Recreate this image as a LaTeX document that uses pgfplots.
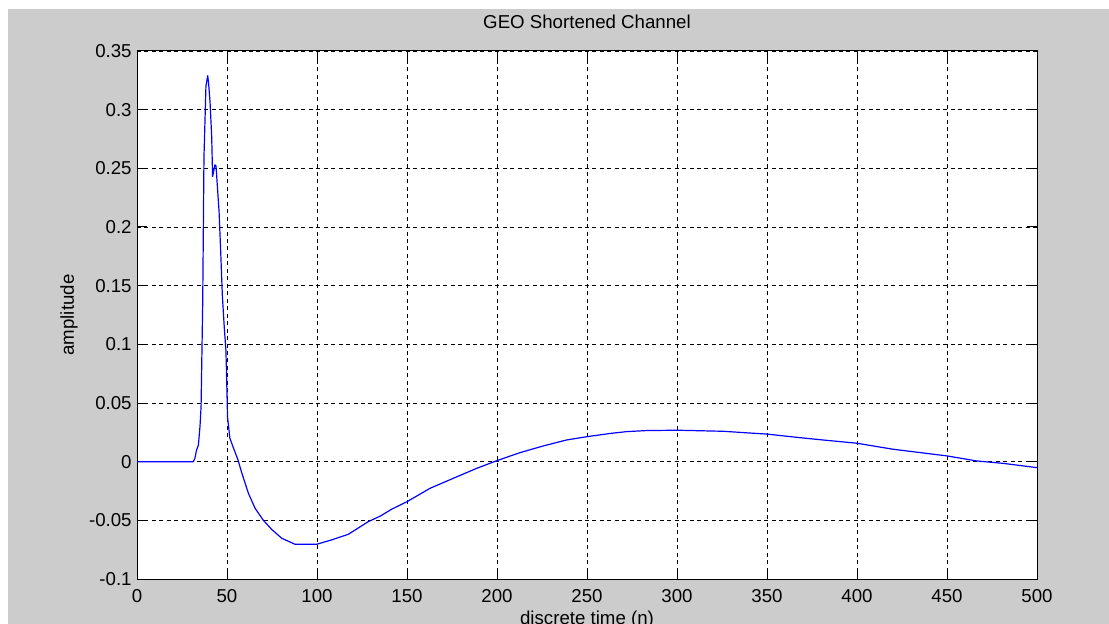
\documentclass[border=0pt]{standalone}
\usepackage{fontspec}
\setmainfont{Liberation Sans}
\usepackage{pgfplots}
\pgfplotsset{compat=1.18}
\definecolor{figgray}{RGB}{204,204,204}
\definecolor{mblue}{RGB}{0,0,255}

\begin{document}
\begin{tikzpicture}[font=\fontsize{14}{16}\selectfont]
% page and figure background (1px = 0.75pt)
\path[use as bounding box, fill=white] (-102.75pt,-33.75pt) rectangle (729pt,434.25pt);
\fill[figgray] (-96.75pt,-33.75pt) rectangle (729pt,427.5pt);
\begin{axis}[
  scale only axis,
  width=675pt, height=396pt,
  xmin=0, xmax=500,
  ymin=-0.1, ymax=0.35,
  xtick={0,50,100,150,200,250,300,350,400,450,500},
  xticklabels={0,50,100,150,200,250,300,350,400,450,500},
  ytick={-0.1,-0.05,0,0.05,0.1,0.15,0.2,0.25,0.3,0.35},
  yticklabels={-0.1,-0.05,0,0.05,0.1,0.15,0.2,0.25,0.3,0.35},
  axis background/.style={fill=white},
  axis line style={black, line width=0.75pt},
  tick pos=both,
  tick align=inside,
  major tick length=7.5pt,
  tick style={black, line width=0.75pt},
  grid=major,
  major grid style={black, line width=0.7pt, dash pattern=on 3pt off 2.6pt},
  xticklabel style={anchor=base, yshift=-17.25pt},
  yticklabel style={xshift=-0.5pt},
  title={GEO Shortened Channel},
  title style={at={(0.5,1)}, anchor=base, yshift=10.5pt},
  xlabel={discrete time (n)},
  xlabel style={at={(axis description cs:0.5,0)}, anchor=base, yshift=-34pt},
  ylabel={amplitude},
  ylabel style={at={(axis description cs:0,0.5)}, anchor=center, rotate=0, yshift=51pt},
]
\addplot[mblue, line width=0.9pt, line join=round] coordinates {
(0,0) (31.3,0) (32.2,0.003) (33.1,0.010) (34.1,0.014) (35.0,0.030)
(35.6,0.047) (36.5,0.135) (37.2,0.259) (38.3,0.320) (39.3,0.329)
(39.8,0.322) (40.6,0.306) (41.5,0.277) (42.0,0.243) (43.3,0.253)
(43.9,0.252) (44.6,0.236) (45.6,0.213) (46.5,0.179) (47.4,0.142)
(48.5,0.114) (49.4,0.095) (49.8,0.071) (50.3,0.038) (51.6,0.020)
(53.5,0.012) (56,0.002) (58.1,-0.009) (61.9,-0.027) (65.6,-0.0397)
(70.2,-0.050) (74.8,-0.0577) (80.4,-0.0653) (87.8,-0.0704) (99.8,-0.0704)
(108.1,-0.0667) (117.4,-0.0619) (128.5,-0.0511) (135,-0.0465) (141.5,-0.0405)
(150,-0.0341) (162.8,-0.0227) (175.7,-0.0142) (188.7,-0.0057) (200,0.0009)
(212.8,0.0077) (225.7,0.0134) (238.7,0.0185) (250,0.0213) (263.7,0.0242)
(272,0.0256) (283,0.0265) (300,0.0268) (325.7,0.0259) (339.6,0.0245)
(350,0.0235) (368,0.0205) (381,0.0185) (400,0.0157) (420,0.0106)
(450,0.0049) (466.5,0.0006) (481,-0.0014) (500,-0.0051)
};
\end{axis}
\end{tikzpicture}
\end{document}
